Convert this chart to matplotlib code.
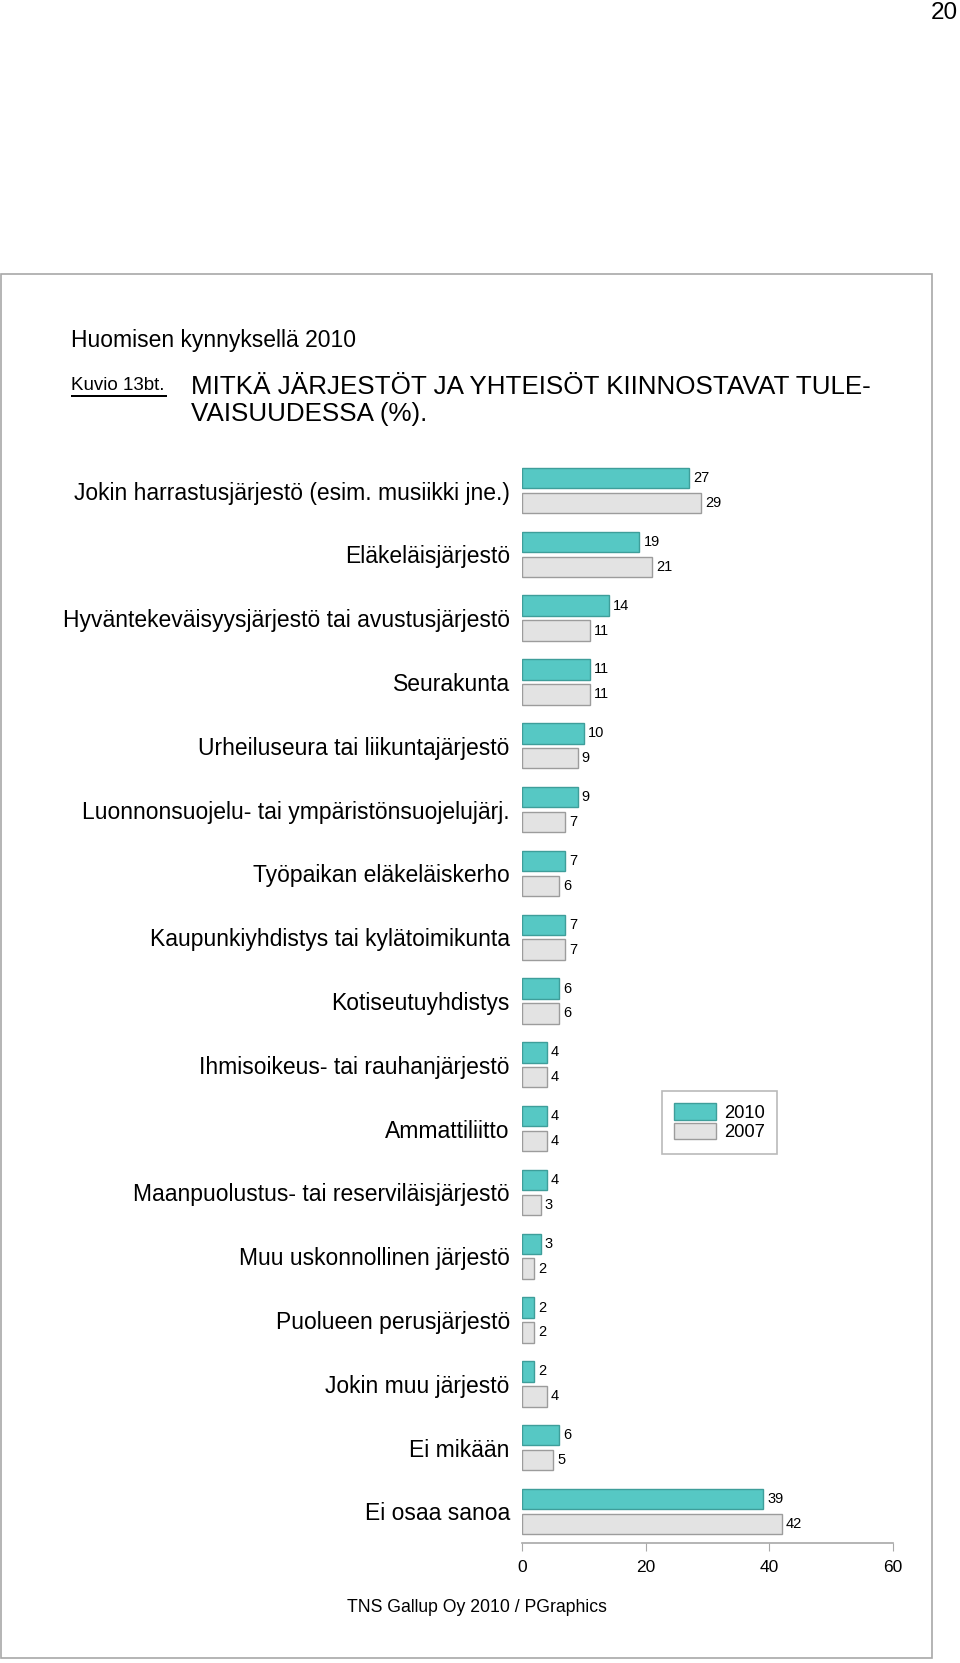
import matplotlib.pyplot as plt
from matplotlib.patches import Rectangle, Patch

plt.rcParams['font.family'] = ['Liberation Sans', 'DejaVu Sans']

# Datos
categories = [
    "Jokin harrastusjärjestö (esim. musiikki jne.)",
    "Eläkeläisjärjestö",
    "Hyväntekeväisyysjärjestö tai avustusjärjestö",
    "Seurakunta",
    "Urheiluseura tai liikuntajärjestö",
    "Luonnonsuojelu- tai ympäristönsuojelujärj.",
    "Työpaikan eläkeläiskerho",
    "Kaupunkiyhdistys tai kylätoimikunta",
    "Kotiseutuyhdistys",
    "Ihmisoikeus- tai rauhanjärjestö",
    "Ammattiliitto",
    "Maanpuolustus- tai reserviläisjärjestö",
    "Muu uskonnollinen järjestö",
    "Puolueen perusjärjestö",
    "Jokin muu järjestö",
    "Ei mikään",
    "Ei osaa sanoa",
]
values_2010 = [27, 19, 14, 11, 10, 9, 7, 7, 6, 4, 4, 4, 3, 2, 2, 6, 39]
values_2007 = [29, 21, 11, 11, 9, 7, 6, 7, 6, 4, 4, 3, 2, 2, 4, 5, 42]
series_labels = ["2010", "2007"]
x_ticks = [0, 20, 40, 60]

teal = "#56C8C4"
teal_edge = "#3E9E9A"
grey = "#E3E3E3"
grey_edge = "#9C9C9C"
line_grey = "#A8A8A8"

W, H = 960, 1663
fig = plt.figure(figsize=(W / 100, H / 100), dpi=100)

# kehys
fig.patches.append(Rectangle((1 / W, 1 - 1658 / H), 931 / W, (1658 - 274) / H,
                             transform=fig.transFigure, fill=False,
                             edgecolor=line_grey, linewidth=1.2))

# otsikot
fig.text(944 / W, 1 - 13 / H, "20", fontsize=17.5, ha="center", va="center")
fig.text(71 / W, 1 - 340 / H, "Huomisen kynnyksellä 2010", fontsize=16.5,
         ha="left", va="center")
fig.text(71 / W, 1 - 386 / H, "Kuvio 13bt.", fontsize=13.5, ha="left",
         va="center")
fig.patches.append(Rectangle((71 / W, 1 - 397 / H), 96 / W, 0.001,
                             transform=fig.transFigure, color="black",
                             linewidth=0))
fig.text(191 / W, 1 - 387 / H, "MITKÄ JÄRJESTÖT JA YHTEISÖT KIINNOSTAVAT TULE-",
         fontsize=18.7, ha="left", va="center")
fig.text(191 / W, 1 - 414 / H, "VAISUUDESSA (%).", fontsize=18.7, ha="left",
         va="center")

# kaavio
ax_left, ax_right = 522 / W, 893 / W
ax_top, ax_bottom = 458.6, 1543
ax = fig.add_axes([ax_left, 1 - ax_bottom / H, ax_right - ax_left,
                   (ax_bottom - ax_top) / H])

pos = list(range(len(categories)))
h = 0.32
off = 0.195
b1 = ax.barh([p - off for p in pos], values_2010, height=h, color=teal,
             edgecolor=teal_edge, linewidth=1)
b2 = ax.barh([p + off for p in pos], values_2007, height=h, color=grey,
             edgecolor=grey_edge, linewidth=1)
ax.bar_label(b1, padding=3, fontsize=10.5)
ax.bar_label(b2, padding=3, fontsize=10.5)

ax.set_xlim(0, 60)
ax.set_ylim(len(categories) - 1 + 0.494, -0.5)
ax.set_yticks(pos)
ax.set_yticklabels(categories, fontsize=16.5)
ax.set_xticks(x_ticks)
ax.tick_params(axis="y", length=0, pad=8.8)
ax.tick_params(axis="x", direction="out", length=6, color=line_grey,
               labelsize=12.5, pad=6.5)
for s in ["top", "right", "left"]:
    ax.spines[s].set_visible(False)
ax.spines["bottom"].set_color(line_grey)
ax.spines["bottom"].set_linewidth(1.2)
ax.spines["bottom"].set_bounds(0, 60)

handles = [Patch(facecolor=teal, edgecolor=teal_edge),
           Patch(facecolor=grey, edgecolor=grey_edge)]
leg = fig.legend(handles, series_labels, loc="upper left",
                 bbox_to_anchor=(662 / W, 1 - 1091 / H), borderaxespad=0,
                 fontsize=13.2, handlelength=2.25, handleheight=1.0,
                 labelspacing=0.05, handletextpad=0.45, borderpad=0.68,
                 fancybox=False, frameon=True)
leg.get_frame().set_edgecolor(line_grey)
leg.get_frame().set_linewidth(1.2)

fig.text(477 / W, 1 - 1607 / H, "TNS Gallup Oy 2010 / PGraphics", fontsize=12.7,
         ha="center", va="center")

fig.savefig("out.png", dpi=100)
